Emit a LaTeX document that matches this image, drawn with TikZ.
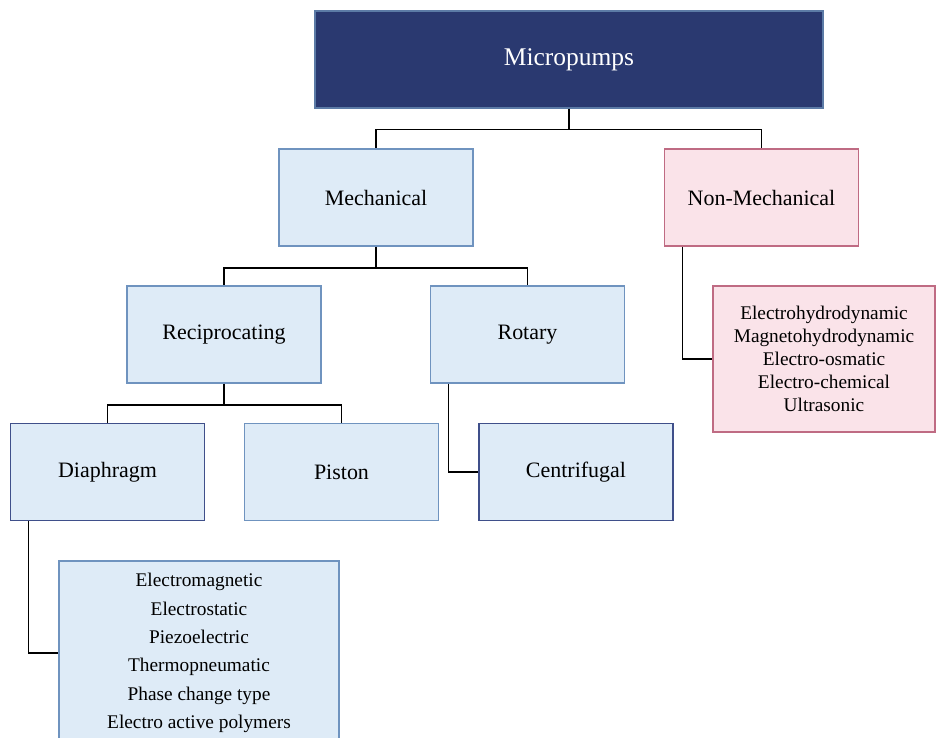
\documentclass[tikz,border=0pt]{standalone}
\usepackage{fontspec}
\setmainfont{LiberationSerif}[Extension=.ttf, UprightFont=*-Regular, BoldFont=*-Bold]
\usepackage{tikz}
\usetikzlibrary{calc}
\definecolor{navy}{HTML}{2A3970}
\definecolor{navyline}{HTML}{5C7BA6}
\definecolor{paleblue}{HTML}{DEEBF7}
\definecolor{blueline}{HTML}{6F93BF}
\definecolor{darkline}{HTML}{3F4F8A}
\definecolor{palepink}{HTML}{FAE3E9}
\definecolor{pinkline}{HTML}{BF6B83}
\tikzset{
    root/.style = {
        draw=navyline,
        fill=navy,
        text=white,
        shape=rectangle,
        minimum height=1.94cm,
        minimum width=10.16cm,
        line width=1pt,
        font=\fontsize{14.5}{17}\selectfont
    },
    category/.style = {
        draw=blueline,
        fill=paleblue,
        shape=rectangle,
        minimum height=1.94cm,
        minimum width=3.88cm,
        line width=1pt,
        font=\fontsize{12.5}{15}\selectfont
    },
    leaf/.style = {
        category,
        draw=darkline
    },
    nonmech/.style = {
        category,
        draw=pinkline,
        fill=palepink
    },
    typelist/.style = {
        draw=blueline,
        fill=paleblue,
        shape=rectangle,
        align=center,
        line width=1pt,
        font=\fontsize{11}{16.1}\selectfont
    },
    link/.style = {
        draw,
        line width=0.8pt
    }
}

\begin{document}
\begin{tikzpicture}
            \useasboundingbox (0,0) rectangle (18.72,-14.76);
            \begin{scope}
            \clip (0,0) rectangle (18.72,-14.76);

            \node[root] (micro) at (11.38,-1.19) {Micropumps};
            \node[category] (mech) at (7.52,-3.95) {Mechanical};
            \node[nonmech] (nonmech) at (15.23,-3.95) {Non-Mechanical};
            \node[category] (recip) at (4.48,-6.69) {Reciprocating};
            \node[category] (rotary) at (10.55,-6.69) {Rotary};
            \node[leaf] (diaph) at (2.15,-9.44) {Diaphragm};
            \node[category] (piston) at (6.83,-9.44) {Piston};
            \node[leaf] (centri) at (11.52,-9.44) {Centrifugal};
            \node[typelist, minimum width=5.6cm, minimum height=3.68cm] (diaphtypes) at (3.98,-13.06)
                {Electromagnetic\\Electrostatic\\Piezoelectric\\Thermopneumatic\\Phase change type\\Electro active polymers};
            \node[typelist, nonmech, minimum width=4.44cm, minimum height=2.92cm, font=\fontsize{11}{13}\selectfont] (nmtypes) at (16.48,-7.18)
                {Electrohydrodynamic\\Magnetohydrodynamic\\Electro-osmatic\\Electro-chemical\\Ultrasonic};

            \path[link] (micro.south) -- ++(0,-0.41) -| (mech.north);
            \path[link] (micro.south) -- ++(0,-0.41) -| (nonmech.north);
            \path[link] (mech.south) -- ++(0,-0.42) -| (recip.north);
            \path[link] (mech.south) -- ++(0,-0.42) -| (rotary.north);
            \path[link] (recip.south) -- ++(0,-0.42) -| (diaph.north);
            \path[link] (recip.south) -- ++(0,-0.42) -| (piston.north);

            \path[link] ($(rotary.south west)+(0.38,0)$) |- (centri.west);
            \path[link] ($(nonmech.south west)+(0.38,0)$) |- (nmtypes.west);
            \path[link] ($(diaph.south west)+(0.38,0)$) |- (diaphtypes.west);
            \end{scope}

        \end{tikzpicture}
\end{document}
